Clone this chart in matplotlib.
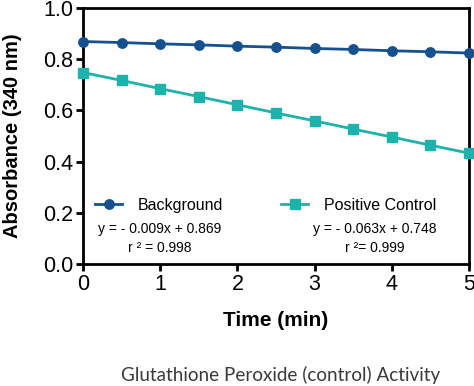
import numpy as np
from matplotlib import pyplot as plt

plt.rcParams['font.family'] = 'Liberation Sans'

time = [0, 0.5, 1, 1.5, 2, 2.5, 3, 3.5, 4, 4.5, 5]
background = [0.869, 0.865, 0.860, 0.856, 0.851, 0.847, 0.842, 0.838, 0.833, 0.829, 0.824]
positive = [0.748, 0.717, 0.685, 0.654, 0.622, 0.590, 0.559, 0.527, 0.496, 0.464, 0.433]

c_bg = '#16508d'
c_pc = '#1db3aa'

fig = plt.figure(figsize=(4.74, 3.86), dpi=100)
ax = fig.add_axes([83/474, 1 - 264/386, 386/474, 256/386])

l1, = ax.plot(time, background, color=c_bg, marker='o', markersize=6.8, lw=2, clip_on=False, zorder=3)
l2, = ax.plot(time, positive, color=c_pc, marker='s', markersize=6.5, lw=2, clip_on=False, zorder=3)

ax.set_xlim(0, 5)
ax.set_ylim(0, 1.0)
ax.set_xticks([0, 1, 2, 3, 4, 5])
ax.set_yticks([0.0, 0.2, 0.4, 0.6, 0.8, 1.0])
ax.set_yticklabels(['0.0', '0.2', '0.4', '0.6', '0.8', '1.0'])
for s in ax.spines.values():
    s.set_linewidth(2)
ax.tick_params(width=2, length=5, labelsize=15.5, pad=2)
ax.set_xlabel('Time (min)', fontsize=15, fontweight='bold', labelpad=12)
ax.set_ylabel('Absorbance (340 nm)', fontsize=14.5, fontweight='bold', labelpad=15)

leg_kw = dict(loc='center left', frameon=False, fontsize=11.5, handlelength=1.7,
              handletextpad=1.0, borderpad=0, borderaxespad=0)
leg1 = ax.legend([l1], ['Background'], bbox_to_anchor=(0.031, 0.23), **leg_kw)
ax.add_artist(leg1)
ax.legend([l2], ['Positive Control'], bbox_to_anchor=(0.513, 0.23), **leg_kw)

ax.text(0.199, 0.137, 'y = - 0.009x + 0.869', transform=ax.transAxes, ha='center', va='center', fontsize=10)
ax.text(0.199, 0.0625, 'r ² = 0.998', transform=ax.transAxes, ha='center', va='center', fontsize=10)
ax.text(0.756, 0.137, 'y = - 0.063x + 0.748', transform=ax.transAxes, ha='center', va='center', fontsize=10)
ax.text(0.756, 0.0625, 'r ²= 0.999', transform=ax.transAxes, ha='center', va='center', fontsize=10)

fig.text(281/474, 1 - 375/386, 'Glutathione Peroxide (control) Activity', ha='center', va='center',
         fontsize=13.6, family='Lato', color='#3a3a3a')

fig.savefig('out.png', dpi=100)
